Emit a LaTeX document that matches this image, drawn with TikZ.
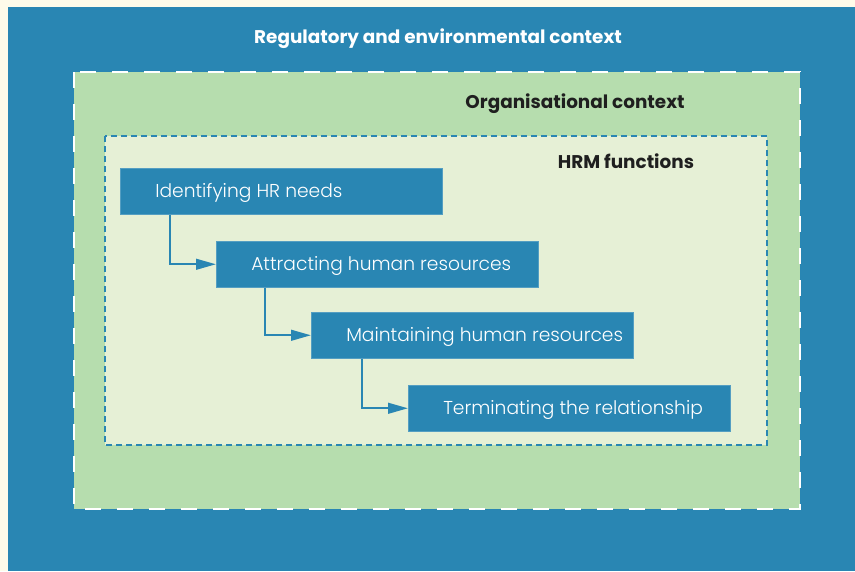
\documentclass[tikz,border=0pt]{standalone}
\usepackage{fontspec}
\setmainfont{Poppins}
\newfontfamily\lightfont{Poppins Light}
\usetikzlibrary{positioning,arrows.meta}

\definecolor{hrblue}{HTML}{2986B3}
\definecolor{orggreen}{HTML}{B6DDAE}
\definecolor{hrmpale}{HTML}{E6F0D6}
\definecolor{pagecream}{HTML}{FEFBEA}
\definecolor{headdark}{HTML}{1F1F1F}

\tikzset{
	hrbox/.style={draw=hrblue!80!white, fill=hrblue, minimum width=241.5pt, minimum height=34.5pt, anchor=north west, inner sep=0pt},
	boxtext/.style={text=white, font=\lightfont\fontsize{14}{16}\selectfont, inner sep=0pt, yshift=-1.5pt},
	heading/.style={font=\bfseries\fontsize{13.8}{16}\selectfont},
	flow/.style={draw=hrblue, line width=1.7pt, -{Triangle[length=15pt,width=8pt]}},
}

\begin{document}
\begin{tikzpicture}[x=0.75pt, y=-0.75pt]
		% frames
		\fill[pagecream] (0,0) rectangle (855,571);
		\fill[hrblue] (8,7) rectangle (855,571);
		\filldraw[fill=orggreen, draw=white, line width=1.6pt, dash pattern=on 12pt off 12pt] (74,72) rectangle (800,509);
		\filldraw[fill=hrmpale, draw=hrblue, line width=1.8pt, dash pattern=on 4.5pt off 3pt] (105,136) rectangle (767,445);
		
		\node[heading, text=white] (regctx) at (438,39) {Regulatory and environmental context};
		\node[heading, text=headdark] (orgctx) at (575,104) {Organisational context};
		\node[heading, text=headdark] (hrmctx) at (626,161) {HRM functions};
		
		% the four steps
		\node[hrbox] (identify) at (120,168) {};
		\node[hrbox] (attract) at (216,241) {};
		\node[hrbox] (maintain) at (311,312) {};
		\node[hrbox] (terminate) at (408,385) {};
		
		\node[boxtext, right=26.25pt of identify.west] (identifytxt) {Identifying HR needs};
		\node[boxtext, right=26.25pt of attract.west] (attracttxt) {Attracting human resources};
		\node[boxtext, right=26.25pt of maintain.west] (maintaintxt) {Maintaining human resources};
		\node[boxtext, right=26.25pt of terminate.west] (terminatetxt) {Terminating the relationship};
		
		\draw[flow] ([xshift=37.5pt]identify.south west) |- (attract.west);
		\draw[flow] ([xshift=37pt]attract.south west) |- (maintain.west);
		\draw[flow] ([xshift=38pt]maintain.south west) |- (terminate.west);
		
\end{tikzpicture}
\end{document}
